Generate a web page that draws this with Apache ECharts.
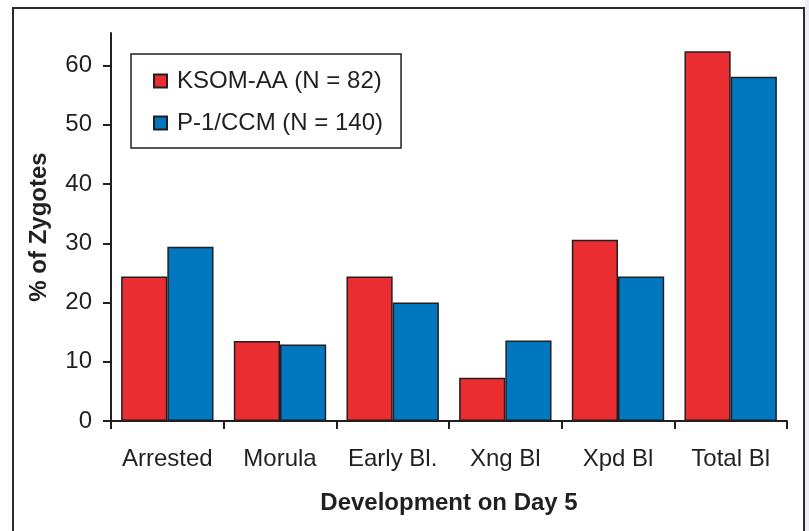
<!DOCTYPE html>
<html>
<head>
<meta charset="utf-8">
<script src="https://cdn.jsdelivr.net/npm/echarts@6/dist/echarts.min.js"></script>
<style>html,body{margin:0;padding:0;background:#fff;}#c{width:809px;height:531px;}</style>
</head>
<body>
<div id="c"></div>
<script>
const categories = ['Arrested', 'Morula', 'Early Bl.', 'Xng Bl', 'Xpd Bl', 'Total Bl'];
const ksomValues = [24.4, 13.5, 24.4, 7.3, 30.6, 62.4];
const p1Values = [29.4, 12.9, 20.0, 13.6, 24.4, 58.1];
const seriesNames = ['KSOM-AA (N = 82)', 'P-1/CCM (N = 140)'];
const yTicks = [0, 10, 20, 30, 40, 50, 60];

const ink = '#231f20';
const font = 'Liberation Sans, Arial, Helvetica, sans-serif';
const chart = echarts.init(document.getElementById('c'));
chart.setOption({
  animation: false,
  backgroundColor: '#ffffff',
  graphic: [
    { type: 'rect', shape: { x: 13, y: 8, width: 791, height: 560 }, style: { fill: 'none', stroke: '#2b2b2b', lineWidth: 2 }, silent: true },
    { type: 'rect', shape: { x: 805, y: 0, width: 4, height: 531 }, style: { fill: '#eceef6' }, silent: true }
  ],
  grid: { left: 111, right: 22, top: 33, bottom: 110, containLabel: false },
  legend: {
    orient: 'vertical',
    left: 131, top: 54,
    data: seriesNames,
    icon: 'rect',
    itemWidth: 13, itemHeight: 13,
    itemGap: 18,
    padding: [15, 18, 13, 22],
    borderColor: ink, borderWidth: 1.5,
    textStyle: { fontFamily: font, fontSize: 24, color: ink, padding: [0, 0, 0, 5] }
  },
  xAxis: {
    type: 'category',
    data: categories,
    name: 'Development on Day 5',
    nameLocation: 'middle',
    nameGap: 70,
    nameTextStyle: { fontFamily: font, fontSize: 24, fontWeight: 'bold', color: ink },
    axisLine: { lineStyle: { color: ink, width: 2 } },
    axisTick: { show: true, interval: 0, length: 8, lineStyle: { color: ink, width: 2 } },
    axisLabel: { interval: 0, fontFamily: font, fontSize: 24, color: ink, margin: 26 }
  },
  yAxis: {
    type: 'value',
    min: 0, max: 65.5,
    name: '% of Zygotes',
    nameLocation: 'middle',
    nameGap: 60,
    nameTextStyle: { fontFamily: font, fontSize: 24, fontWeight: 'bold', color: ink },
    splitLine: { show: false },
    axisLine: { show: true, lineStyle: { color: ink, width: 2 } },
    axisTick: { show: true, length: 8, customValues: yTicks, lineStyle: { color: ink, width: 2 } },
    axisLabel: { fontFamily: font, fontSize: 24, color: ink, margin: 19, customValues: yTicks }
  },
  series: [
    { name: seriesNames[0], type: 'bar', data: ksomValues, barGap: '0%', barCategoryGap: '18%',
      itemStyle: { color: '#e92d31', borderColor: ink, borderWidth: 1.5 } },
    { name: seriesNames[1], type: 'bar', data: p1Values, barGap: '0%', barCategoryGap: '18%',
      itemStyle: { color: '#0077bf', borderColor: ink, borderWidth: 1.5 } }
  ]
});
</script>
</body>
</html>
